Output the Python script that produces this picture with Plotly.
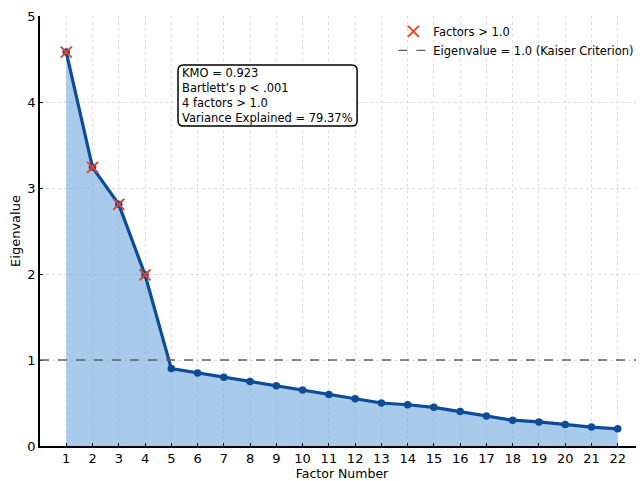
import plotly.graph_objects as go

factors = list(range(1, 23))
eigenvalues = [4.58, 3.24, 2.81, 1.99, 0.90, 0.85, 0.80, 0.75, 0.70, 0.65, 0.60,
               0.55, 0.50, 0.48, 0.45, 0.40, 0.35, 0.30, 0.28, 0.25, 0.22, 0.20]
kaiser = 1.0
retained_x = [f for f, e in zip(factors, eigenvalues) if e > kaiser]
retained_y = [e for e in eigenvalues if e > kaiser]
stats_lines = ["KMO = 0.923", "Bartlett\u2019s p < .001", "4 factors > 1.0",
               "Variance Explained = 79.37%"]

FONT = "DejaVu Sans"
fig = go.Figure()
fig.add_trace(go.Scatter(
    x=factors, y=eigenvalues, mode="lines+markers", fill="tozeroy",
    fillcolor="rgba(88,154,216,0.52)",
    line=dict(color="#0d4c98", width=3.2),
    marker=dict(color="#0d4c98", size=7.5),
    showlegend=False))
fig.add_trace(go.Scatter(
    x=retained_x, y=retained_y, mode="markers", name="Factors > 1.0",
    marker=dict(symbol="x-thin", size=11,
                line=dict(color="#ec4424", width=2), color="#ec4424")))
fig.add_shape(type="line", xref="paper", x0=0, x1=1, yref="y", y0=kaiser, y1=kaiser,
              line=dict(color="#5a6266", width=1.4, dash="dash"),
              showlegend=True, name="Eigenvalue = 1.0 (Kaiser Criterion)")

# rounded text box
x0, x1, y0, y1 = 0.2285, 0.525, 0.744, 0.886
rx, ry = 0.009, 0.0125
path = (f"M {x0+rx},{y1} L {x1-rx},{y1} Q {x1},{y1} {x1},{y1-ry} "
        f"L {x1},{y0+ry} Q {x1},{y0} {x1-rx},{y0} L {x0+rx},{y0} "
        f"Q {x0},{y0} {x0},{y0+ry} L {x0},{y1-ry} Q {x0},{y1} {x0+rx},{y1} Z")
fig.add_shape(type="path", xref="paper", yref="paper", path=path,
              line=dict(color="black", width=1.5), fillcolor="white", layer="above")
fig.add_annotation(
    xref="paper", yref="paper", x=x0 + 0.004, y=(y0 + y1) / 2,
    xanchor="left", yanchor="middle",
    text="<br>".join(stats_lines), align="left", showarrow=False,
    font=dict(family=FONT, size=11.5, color="black"))

fig.update_layout(
    width=636, height=473, plot_bgcolor="white", paper_bgcolor="white",
    margin=dict(l=32, r=0, t=8, b=35),
    font=dict(family=FONT, size=13, color="black"),
    legend=dict(x=0.585, y=0.998, xanchor="left", yanchor="top",
                bgcolor="rgba(0,0,0,0)", font=dict(size=11.5),
                tracegroupgap=0, itemwidth=30),
    xaxis=dict(range=[0, 23], tickmode="array", tickvals=factors,
               showline=True, linecolor="black", linewidth=1.5,
               ticks="inside", ticklen=3, tickcolor="black",
               showgrid=True, gridcolor="rgba(150,150,150,0.3)", griddash="dot",
               zeroline=False, automargin=False,
               title=dict(text="Factor Number", standoff=2, font=dict(size=12.5))),
    yaxis=dict(range=[0, 5], dtick=1,
               showline=True, linecolor="black", linewidth=1.5,
               ticks="inside", ticklen=3, tickcolor="black",
               showgrid=True, gridcolor="rgba(150,150,150,0.3)", griddash="dot",
               zeroline=False, automargin=False,
               title=dict(text="Eigenvalue", standoff=4, font=dict(size=13))),
)
fig.write_html("out.html")
